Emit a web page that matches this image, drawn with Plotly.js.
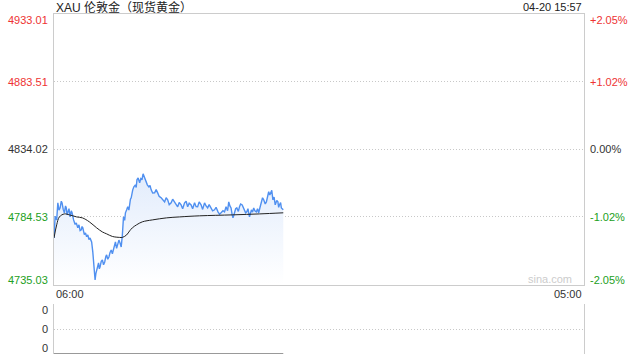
<!DOCTYPE html>
<html>
<head>
<meta charset="utf-8">
<script src="https://cdn.plot.ly/plotly-3.0.1.min.js"></script>
<style>html,body{margin:0;padding:0;background:#fff;}#chart{width:640px;height:360px;}</style>
</head>
<body>
<div id="chart"></div>
<script>
// ---- data ----
var dayDate = '2026-04-20';
var nextDate = '2026-04-21';
var titleText = 'XAU 伦敦金（现货黄金）';
var stampText = '04-20 15:57';
var prevClose = 4834.02;

// minutes after 06:00
var priceMinutes = [0,3,7,10,13,16,19,21,24,27,30,32,34,36,39,42,45,47,49,51,55,58,62,65,68,71,73,75,79,82,85,88,91,94,96,98,101,104,107,109,111,114,116,118,120,123,126,129,132,135,137,140,143,146,149,152,155,158,160,163,166,169,171,173,175,178,181,184,186,189,192,195,197,199,201,203,205,208,212,214,216,219,223,226,229,232,234,237,240,243,247,250,253,257,262,266,270,274,279,283,288,292,296,300,305,309,314,318,322,326,331,335,340,344,348,352,357,361,366,370,374,378,383,387,392,396,400,404,409,413,418,422,427,431,435,440,444,448,452,455,458,461,464,466,468,470,473,476,480,483,486,490,493,496,499,502,505,509,512,514,517,520,523,527,530,533,536,540,543,546,550,553,556,559,562,564,567,570,573,576,580,583,585,587,590,592,595,597];
var prices = [4769.1,4785.0,4782.3,4794.8,4789.5,4791.1,4796.0,4794.8,4790.0,4787.5,4792.5,4791.1,4786.0,4788.2,4790.5,4784.5,4789.0,4787.5,4784.0,4782.3,4779.0,4780.1,4776.5,4778.7,4774.5,4775.0,4777.5,4776.5,4771.5,4772.8,4770.0,4771.3,4768.0,4769.1,4767.5,4766.2,4758.9,4747.9,4738.3,4743.0,4745.7,4749.5,4750.8,4746.5,4747.9,4752.0,4753.0,4749.5,4751.5,4755.5,4756.7,4753.5,4755.2,4758.5,4760.3,4757.5,4761.8,4763.5,4766.2,4761.5,4764.0,4767.5,4766.2,4764.5,4762.5,4771.3,4784.5,4782.0,4787.5,4789.5,4791.9,4789.5,4794.8,4797.5,4798.5,4802.0,4804.3,4806.5,4808.0,4806.0,4811.7,4813.0,4809.5,4812.5,4811.7,4816.0,4814.6,4812.0,4810.2,4808.0,4806.5,4807.5,4804.3,4802.0,4802.1,4804.5,4802.1,4799.5,4798.5,4797.0,4795.5,4798.5,4797.0,4793.5,4794.8,4797.5,4795.5,4793.0,4791.9,4795.0,4793.3,4790.5,4794.8,4796.0,4791.9,4794.5,4793.3,4790.5,4794.8,4792.0,4791.9,4795.5,4793.3,4790.0,4794.8,4792.5,4791.1,4793.5,4791.1,4789.0,4789.7,4791.5,4788.2,4786.5,4787.5,4789.0,4788.2,4791.9,4789.0,4795.5,4792.5,4791.1,4786.0,4783.8,4785.5,4787.5,4790.5,4791.1,4788.5,4791.9,4794.0,4793.3,4791.0,4789.7,4787.5,4788.2,4790.5,4784.5,4787.5,4789.7,4788.0,4791.1,4789.0,4788.2,4790.5,4787.5,4791.0,4795.5,4798.5,4797.0,4794.0,4795.5,4799.0,4802.9,4800.5,4802.1,4804.0,4797.0,4799.0,4793.3,4796.5,4795.5,4791.5,4793.3,4795.0,4791.1,4790.5,4789.7];

var avgMinutes = [0,7,14,27,40,59,74,92,111,126,137,152,171,178,189,197,204,215,230,256,293,327,379,465,535,597];
var avgPrices = [4769.1,4778.7,4784.5,4786.7,4786.0,4784.5,4783.8,4780.9,4776.5,4773.5,4772.1,4770.2,4769.5,4769.5,4771.3,4774.3,4776.5,4778.7,4780.9,4782.3,4783.8,4784.5,4785.3,4786.0,4786.7,4787.5];

var volMinutes = [0,597];
var volumes = [0,0];

var priceLabels = ['4933.01','4883.51','4834.02','4784.53','4735.03'];
var pctLabels = ['+2.05%','+1.02%','0.00%','-1.02%','-2.05%'];
var volLabels = ['0','0','0'];
var xStartLabel = '06:00';
var xEndLabel = '05:00';

// ---- helpers ----
function toTime(m){
  var t = new Date(Date.UTC(2026,3,20,6,0) + m*60000);
  function p(n){return (n<10?'0':'')+n;}
  return t.getUTCFullYear()+'-'+p(t.getUTCMonth()+1)+'-'+p(t.getUTCDate())+' '+p(t.getUTCHours())+':'+p(t.getUTCMinutes());
}
var xs = priceMinutes.map(toTime);
var xa = avgMinutes.map(toTime);
var xv = volMinutes.map(toTime);
var xRange = [dayDate+' 06:00', nextDate+' 05:00'];
var yVals = priceLabels.map(Number);
var yMin = yVals[4], yMax = yVals[0];

var RED = '#ee3333', GREEN = '#22a022', DARK = '#333333';
function colorFor(v){ return v > prevClose + 0.001 ? RED : (v < prevClose - 0.001 ? GREEN : DARK); }
var FONT = 'Liberation Sans, Arial, Noto Sans CJK SC, sans-serif';

var traces = [
  {x: xs, y: prices, type:'scatter', mode:'lines', xaxis:'x', yaxis:'y',
   line:{color:'#5090f0', width:1.4}, fill:'tozeroy',
   fillgradient:{type:'vertical', start:yMin, stop:4815,
     colorscale:[[0,'rgba(255,255,255,1)'],[1,'rgba(226,236,252,1)']]},
   hoverinfo:'skip'},
  {x: xa, y: avgPrices, type:'scatter', mode:'lines', xaxis:'x', yaxis:'y',
   line:{color:'#222222', width:1, shape:'spline'}, hoverinfo:'skip'},
  {x: xv, y: volumes, type:'scatter', mode:'lines', xaxis:'x2', yaxis:'y2',
   line:{color:'#777777', width:1.5}, hoverinfo:'skip'}
];

var ann = [];
ann.push({xref:'paper', yref:'paper', x:0, y:1, yshift:7, xanchor:'left', yanchor:'middle',
  text:titleText, showarrow:false, font:{family:FONT, size:12, color:'#222'}});
ann.push({xref:'paper', yref:'paper', x:1, y:1, yshift:7, xanchor:'right', yanchor:'middle',
  text:stampText, showarrow:false, font:{family:FONT, size:11, color:'#222'}});
for (var i=0;i<priceLabels.length;i++){
  var v = yVals[i];
  var shift = i===0 ? -6 : (i===priceLabels.length-1 ? 5 : 0);
  ann.push({xref:'paper', yref:'y', x:0, xshift:-4, y:v, yshift:shift, xanchor:'right', yanchor:'middle',
    text:priceLabels[i], showarrow:false, font:{family:FONT, size:11, color:colorFor(v)}});
  ann.push({xref:'paper', yref:'y', x:1, xshift:4, y:v, yshift:shift, xanchor:'left', yanchor:'middle',
    text:pctLabels[i], showarrow:false, font:{family:FONT, size:11, color:colorFor(v)}});
}
var volPos = [2,1,0];
var volShift = [-6,0,6];
for (var j=0;j<volLabels.length;j++){
  ann.push({xref:'paper', yref:'y2', x:0, xshift:-4, y:volPos[j], yshift:volShift[j], xanchor:'right', yanchor:'middle',
    text:volLabels[j], showarrow:false, font:{family:FONT, size:11, color:DARK}});
}
ann.push({xref:'x', yref:'paper', x:xRange[0], y:0.2044, yshift:-9, xanchor:'left', yanchor:'middle',
  text:xStartLabel, showarrow:false, font:{family:FONT, size:11, color:DARK}});
ann.push({xref:'x', yref:'paper', x:xRange[1], y:0.2044, yshift:-9, xanchor:'right', yanchor:'middle',
  text:xEndLabel, showarrow:false, font:{family:FONT, size:11, color:DARK}});
ann.push({xref:'paper', yref:'paper', x:1, xshift:-10, y:0.2044, yshift:6, xanchor:'right', yanchor:'middle',
  text:'sina.com', showarrow:false, font:{family:FONT, size:11, color:'#cccccc'}});

var layout = {
  width:640, height:360,
  margin:{l:54, r:56, t:14, b:6, pad:0},
  paper_bgcolor:'#fff', plot_bgcolor:'rgba(0,0,0,0)',
  showlegend:false,
  font:{family:FONT, size:11, color:DARK},
  xaxis:{type:'date', range:xRange, domain:[0,1], anchor:'y', showgrid:false, zeroline:false,
    showticklabels:false, ticks:'', showline:true, mirror:true, linecolor:'#cccccc', linewidth:1},
  yaxis:{range:[yMin,yMax], domain:[0.2044,1], anchor:'x', tickvals:yVals.slice(1,4),
    showticklabels:false, ticks:'', showgrid:true, gridcolor:'#c8c8c8', griddash:'1px,2px', gridwidth:1,
    zeroline:false, showline:true, mirror:true, linecolor:'#cccccc', linewidth:1},
  xaxis2:{type:'date', range:xRange, domain:[0,1], anchor:'y2', showgrid:false, zeroline:false,
    showticklabels:false, ticks:'', showline:false},
  yaxis2:{range:[0,2], domain:[0,0.147], anchor:'x2', tickvals:[0,1,2], showticklabels:false, ticks:'',
    showgrid:true, gridcolor:'#c8c8c8', griddash:'1px,2px', gridwidth:1, zeroline:false,
    showline:true, mirror:true, linecolor:'#cccccc', linewidth:1},
  annotations: ann
};

Plotly.newPlot('chart', traces, layout, {staticPlot:true, displayModeBar:false});
</script>
</body>
</html>
